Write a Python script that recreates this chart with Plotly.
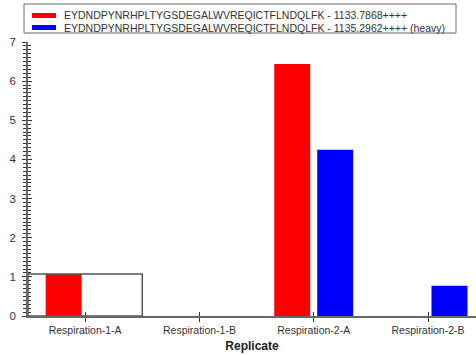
import plotly.graph_objects as go

categories = ["Respiration-1-A", "Respiration-1-B", "Respiration-2-A", "Respiration-2-B"]
light_values = [1.07, 0, 6.44, 0]
heavy_values = [0, 0, 4.25, 0.77]
light_name = "EYDNDPYNRHPLTYGSDEGALWVREQICTFLNDQLFK - 1133.7868++++"
heavy_name = "EYDNDPYNRHPLTYGSDEGALWVREQICTFLNDQLFK - 1135.2962++++ (heavy)"
selected_index = 0

FONT = "Arial, Liberation Sans, sans-serif"
W, H = 476, 355
ML, MR, MT, MB = 28, 0, 42, 39
PW, PH = W - ML - MR, H - MT - MB


def px(x):
    return (x - ML) / PW


def py(y):
    return (H - MB - y) / PH


fig = go.Figure()
fig.add_trace(go.Bar(x=categories, y=light_values, marker=dict(color="#ff0000", line=dict(width=0)),
                     showlegend=False, name=light_name))
fig.add_trace(go.Bar(x=categories, y=heavy_values, marker=dict(color="#0000ff", line=dict(width=0)),
                     showlegend=False, name=heavy_name))
# empty trace so the overlaid tick-only axes (inner half of crossing ticks) get drawn
fig.add_trace(go.Scatter(x=[None], y=[None], xaxis="x2", yaxis="y2", showlegend=False, hoverinfo="skip"))

# selection highlight box around selected replicate
fig.add_shape(type="rect", xref="x", yref="y",
              x0=selected_index - 0.5, x1=selected_index + 0.5,
              y0=0, y1=light_values[selected_index],
              line=dict(color="#555555", width=1.5), fillcolor="rgba(0,0,0,0)", layer="above")

# legend box drawn in paper coords
fig.add_shape(type="rect", xref="paper", yref="paper", x0=px(24), x1=px(456), y0=py(33), y1=py(4),
              line=dict(color="#666666", width=1), fillcolor="white")
for name, color, rowy in [(light_name, "#ff0000", 15.5), (heavy_name, "#0000ff", 27.5)]:
    fig.add_shape(type="line", xref="paper", yref="paper", x0=px(32), x1=px(56), y0=py(rowy), y1=py(rowy),
                  line=dict(color=color, width=5))
    fig.add_annotation(xref="paper", yref="paper", x=px(62), y=py(rowy), text=name, showarrow=False,
                       xanchor="left", yanchor="middle", font=dict(family=FONT, size=10.5, color="#333333"))

xr = [-0.5, 3.42]
yr = [0, 7]
TC = "#333333"
fig.update_layout(
    template="none",
    width=W, height=H,
    margin=dict(l=ML, r=MR, t=MT, b=MB, pad=0),
    paper_bgcolor="white", plot_bgcolor="white",
    barmode="group", bargap=0.248, bargroupgap=0.163,
    font=dict(family=FONT, size=10, color="#333333"),
    showlegend=False,
    xaxis=dict(type="category", categoryorder="array", categoryarray=categories,
               range=xr, showgrid=False, zeroline=False, automargin=False,
               showline=True, linecolor="#666666", linewidth=1.5,
               ticks="outside", ticklen=4, tickcolor=TC, tickwidth=1,
               tickfont=dict(family=FONT, size=10.5, color="#333333"),
               title=dict(text="<b>Replicate</b>", font=dict(family=FONT, size=12, color="#222222"), standoff=6)),
    yaxis=dict(range=yr, dtick=1, tick0=0, showgrid=False, zeroline=False, automargin=False,
               showline=True, linecolor="#666666", linewidth=1.5,
               ticks="outside", ticklen=4, tickcolor=TC, tickwidth=1, ticklabelstandoff=4,
               minor=dict(dtick=0.1, tick0=0, ticks="outside", ticklen=3, tickcolor=TC, tickwidth=1, showgrid=False),
               tickfont=dict(family=FONT, size=11.5, color="#333333")),
    xaxis2=dict(overlaying="x", anchor="y2", side="bottom", range=xr, tickmode="array", tickvals=[0, 1, 2, 3],
                showticklabels=False, ticks="inside", ticklen=4, automargin=False, tickcolor=TC, tickwidth=1,
                showgrid=False, zeroline=False, showline=False, fixedrange=True),
    yaxis2=dict(overlaying="y", anchor="x2", side="left", range=yr, dtick=1, tick0=0,
                automargin=False, showticklabels=False, ticks="inside", ticklen=4, tickcolor=TC, tickwidth=1,
                minor=dict(dtick=0.1, tick0=0, ticks="inside", ticklen=3, tickcolor=TC, tickwidth=1, showgrid=False),
                showgrid=False, zeroline=False, showline=False, fixedrange=True),
)

fig.write_html("out.html", config={"displayModeBar": False},
               post_script="document.body.style.margin='0';document.body.style.padding='0';")
